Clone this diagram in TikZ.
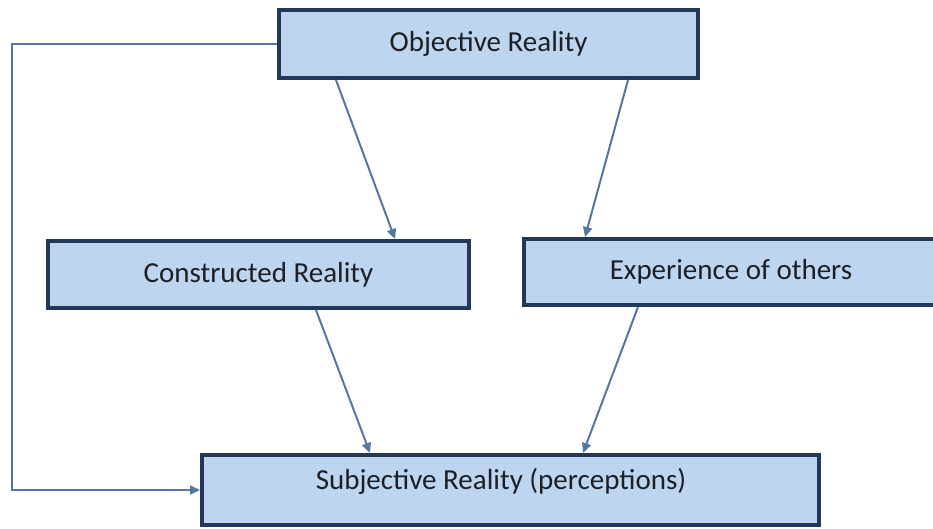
\documentclass[tikz,border=0pt]{standalone}
\usepackage{fontspec}
\setmainfont{Carlito}
\usetikzlibrary{arrows.meta}
\definecolor{boxfill}{HTML}{BDD5EE}
\definecolor{boxline}{HTML}{22375A}
\definecolor{conncol}{HTML}{53779F}
\definecolor{txtcol}{HTML}{1C1F26}
\tikzset{
  labelfont/.style={text=txtcol, font=\fontsize{29}{34}\selectfont},
  box/.style={draw=boxline, line width=4pt, fill=boxfill, rectangle,
    inner sep=0pt, labelfont},
  conn/.style={draw=conncol, line width=2pt,
    -{Triangle[length=10pt,width=9pt]}},
}
\begin{document}
\begin{tikzpicture}[x=1pt,y=-1pt]
  \useasboundingbox (0,0) rectangle (933,529);
  \clip (0,0) rectangle (933,529);
  % the four realities
  \node[box, minimum width=419pt, minimum height=68pt] (obj) at (488.5,44) {Objective Reality};
  \node[box, minimum width=421pt, minimum height=67pt] (con) at (258.5,274.5) {Constructed Reality};
  \node[box, minimum width=414pt, minimum height=66pt] (exp) at (731,272) {Experience of others};
  \node[box, minimum width=617pt, minimum height=70pt] (subj) at (510.5,490) {};
  \node[labelfont] (subjtxt) at (501,481) {Subjective Reality (perceptions)};
  % bend point of the loop on the left
  \coordinate (bend) at (12,490);
  % connectors
  \draw[conn] ([xshift=59pt]obj.south west) -- ([xshift=349pt]con.north west);
  \draw[conn] ([xshift=351pt]obj.south west) -- ([xshift=63pt]exp.north west);
  \draw[conn] ([xshift=270pt]con.south west) -- ([xshift=170pt]subj.north west);
  \draw[conn] ([xshift=116pt]exp.south west) -- ([xshift=383pt]subj.north west);
  \draw[conn] (obj.west) -| (bend) -- (subj.west);
\end{tikzpicture}
\end{document}
